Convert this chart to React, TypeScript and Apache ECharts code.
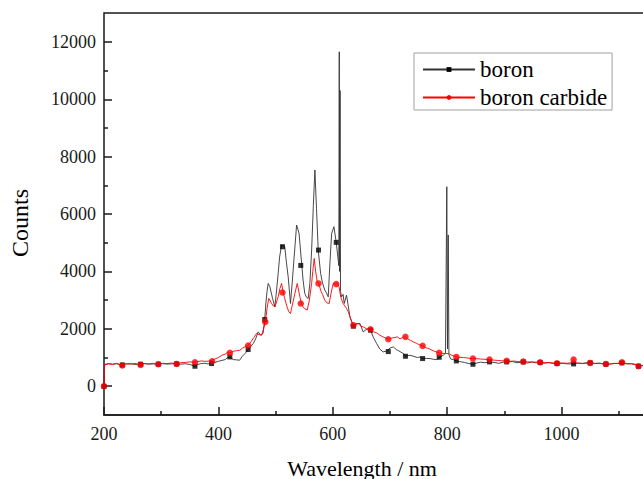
import React, { useEffect, useRef } from "react";
import * as echarts from "echarts";

// Boron spectrum (wavelength nm, counts)
const boronNm = [
  200, 201, 208, 215, 222, 230, 238, 246, 254, 262, 270, 278, 286, 294, 302, 310, 318, 326, 334, 342, 350, 359, 364, 370, 376, 382, 388, 394, 400, 406, 412, 416, 420, 426, 432, 437, 442, 447, 452, 457, 461, 465, 469.5, 474, 478, 481, 483, 485, 487, 490, 492.5, 494.7, 498.7, 501, 504.5, 507, 510.5, 513, 516, 519, 522, 526, 529, 532, 536.7, 541, 545.5, 548, 551, 554, 557, 560, 563, 566, 568.7, 571.5, 574.5, 578.7, 582, 586, 589, 592, 595, 598, 602, 606, 609.5, 610.5, 611.3, 612, 612.7, 613.5, 615.4, 618, 620, 624, 627, 630, 636, 641.7, 647.5, 653, 660, 666, 671, 676.7, 682, 688, 694, 700, 705.8, 711, 717.5, 724, 727, 735, 742, 748, 752.5, 757, 764, 770, 776, 781.7, 787, 793, 797, 799.3, 800.5, 801.8, 803, 806, 810.8, 816, 822, 830, 838, 845, 852, 858, 866, 874, 882, 890, 898, 904, 914, 922, 933, 940, 948, 954, 962.5, 970, 978, 986, 992, 1002, 1010, 1021, 1028, 1036, 1042, 1050, 1058, 1066, 1072, 1077.5, 1084, 1092, 1098, 1105.5, 1114, 1122, 1130, 1134.5, 1140, 1146,
];
const boronCounts = [
  0, 760, 790, 770, 785, 745, 775, 790, 760, 770, 795, 770, 780, 765, 790, 775, 780, 790, 770, 785, 760, 698, 760, 792, 800, 780, 814, 830, 870, 900, 930, 1000, 1022, 930, 920, 907, 1050, 1150, 1280, 1400, 1489, 1650, 1895, 1780, 1837, 2326, 2900, 3300, 3582, 3464, 3250, 3058, 2767, 3200, 3931, 4500, 4918, 4900, 4860, 4300, 3812, 2884, 3600, 4395, 5616, 5326, 4279, 3700, 3233, 3100, 3058, 3600, 4744, 6300, 7534, 6200, 4744, 3931, 3600, 3348, 3250, 3115, 4300, 5326, 5556, 5012, 4395, 4200, 11650, 4000, 10300, 3300, 3115, 3200, 2884, 3174, 2800, 2418, 2093, 2186, 2186, 1895, 2000, 1953, 1700, 1489, 1300, 1197, 1230, 1330, 1371, 1280, 1209, 1130, 1046, 1081, 1040, 1000, 1022, 965, 970, 965, 940, 930, 1011, 1081, 1150, 6950, 1300, 5270, 1100, 950, 930, 884, 860, 830, 790, 767, 810, 840, 820, 849, 830, 800, 840, 849, 860, 820, 849, 810, 850, 820, 825, 800, 830, 790, 791, 800, 780, 779, 810, 790, 820, 814, 790, 810, 780, 767, 770, 800, 790, 814, 780, 790, 760, 698, 730, 720,
];
// Boron markers (every n-th point)
const boronMarkNm = [200, 232, 264, 295, 327, 359, 388, 420, 452, 481, 512, 544, 575, 606, 636, 666, 697, 727, 757, 786, 816, 845, 874, 904, 933, 962.5, 992, 1021, 1050, 1077.5, 1105.5, 1134.5];
const boronMarkCounts = [0, 743, 767, 770, 780, 698, 792, 1022, 1280, 2326, 4860, 4209, 4744, 5012, 2093, 1953, 1209, 1046, 965, 1011, 884, 767, 849, 849, 849, 825, 791, 779, 814, 767, 814, 698];

// Boron carbide spectrum
const carbideNm = [
  200, 201, 208, 215, 222, 232, 238, 246, 254, 264, 270, 278, 286, 295, 302, 310, 318, 327, 334, 342, 350, 359, 364, 370, 376, 382, 389, 394, 400, 406, 412, 416, 420, 426, 432, 437.5, 442, 447, 452, 457, 462, 466.7, 471, 475.5, 479, 482, 485, 488, 490, 493, 496, 498.7, 501, 504.5, 507.5, 510.5, 513.3, 516, 520, 523, 526, 530, 533.7, 537.8, 542.5, 545, 548, 551, 555.3, 559, 563, 565, 567.5, 570, 572.8, 575.5, 578.7, 582, 586, 590, 593.7, 597, 600.8, 605.5, 608, 611, 614, 618, 621, 624, 627, 630, 633, 636, 640, 644.5, 649, 653, 659, 666, 671, 676.7, 682, 688, 692, 697, 703, 708.7, 713, 717.5, 722, 727, 731, 736, 740.8, 746, 751, 757, 762, 766, 770, 776, 781, 786, 791, 797, 802, 808, 812, 816, 822, 828, 834, 840, 845, 852, 858, 864, 874, 882, 888, 894, 904, 910, 916, 924, 933, 940, 948, 956, 962.5, 970, 978, 986, 992, 1002, 1010, 1016, 1021, 1026, 1034, 1042, 1050, 1058, 1066, 1074, 1077.5, 1084, 1092, 1098, 1105.5, 1114, 1122, 1130, 1134.5, 1140, 1146,
];
const carbideCounts = [
  0, 740, 780, 760, 800, 725, 790, 770, 800, 745, 790, 780, 800, 767, 800, 790, 810, 779, 820, 830, 850, 837, 860, 884, 870, 872, 907, 950, 1000, 1080, 1120, 1180, 1163, 1220, 1240, 1256, 1330, 1380, 1419, 1550, 1700, 1837, 1800, 1779, 2000, 2243, 2700, 3058, 3000, 2884, 2800, 2767, 2900, 3115, 3400, 3582, 3268, 3050, 2767, 2600, 2535, 2900, 3233, 3582, 3115, 2884, 2767, 2700, 2651, 3000, 3582, 4000, 4454, 4000, 3638, 3582, 3348, 3200, 3000, 2900, 2884, 3250, 3582, 3558, 3600, 3464, 3100, 2884, 2800, 2709, 2600, 2418, 2250, 2128, 2150, 2186, 2100, 2070, 2000, 1988, 1900, 1860, 1780, 1720, 1680, 1639, 1680, 1700, 1720, 1650, 1700, 1721, 1650, 1600, 1547, 1500, 1450, 1407, 1350, 1320, 1291, 1230, 1200, 1163, 1150, 1140, 1140, 1080, 1050, 1023, 1010, 1000, 990, 970, 965, 960, 950, 940, 930, 910, 900, 890, 884, 870, 880, 860, 861, 850, 845, 840, 837, 830, 820, 815, 802, 810, 800, 820, 930, 805, 800, 795, 814, 800, 790, 785, 779, 780, 790, 800, 837, 790, 780, 740, 698, 720, 710,
];
const carbideMarkNm = [200, 232, 264, 295, 327, 359, 389, 420, 452, 482, 512, 544, 575, 606, 636, 666, 697, 727, 757, 786, 816, 845, 874, 904, 933, 962.5, 992, 1021, 1050, 1077.5, 1105.5, 1134.5];
const carbideMarkCounts = [0, 725, 745, 767, 779, 837, 872, 1163, 1419, 2243, 3268, 2884, 3582, 3558, 2128, 1988, 1639, 1721, 1407, 1163, 1023, 965, 930, 884, 861, 837, 802, 930, 814, 779, 837, 698];

const xTicks = { min: 200, max: 1200, interval: 200 };
const yTicks = { min: 0, max: 12000, interval: 2000 };
const yFrame = { min: -1000, max: 13000 };

const pair = (xs: number[], ys: number[]) => xs.map((x, i) => [x, ys[i]]);

export default function App() {
  const ref = useRef<HTMLDivElement>(null);
  useEffect(() => {
    const chart = echarts.init(ref.current!, null, { renderer: "svg" });
    const font = "'Liberation Serif', 'Times New Roman', serif";
    const ink = "#1a1a1a";
    const plain = (v: number) => String(v);
    const tick = { show: true, inside: true, length: 8, lineStyle: { color: ink, width: 1.5 } };
    const minor = { show: true, splitNumber: 2, length: 4, lineStyle: { color: ink, width: 1.5 } };
    chart.setOption({
      animation: false,
      backgroundColor: "#fff",
      grid: [
        { left: 104, top: 13, width: 572, height: 402, show: true, borderColor: ink, borderWidth: 1.5, backgroundColor: "transparent", outerBoundsMode: "none" },
        { left: 104, top: 42, width: 572, height: 344, outerBoundsMode: "none" },
      ],
      xAxis: [
        {
          type: "value", gridIndex: 0, position: "bottom", min: xTicks.min, max: xTicks.max, interval: xTicks.interval,
          axisLine: { show: true, onZero: false, lineStyle: { color: ink, width: 1.5 } },
          axisTick: tick,
          minorTick: minor,
          axisLabel: { fontSize: 18, color: ink, margin: 10, fontFamily: font, formatter: plain, showMaxLabel: false },
          splitLine: { show: false },
        },
        { type: "value", gridIndex: 1, min: xTicks.min, max: xTicks.max, show: false },
      ],
      yAxis: [
        { type: "value", gridIndex: 0, min: yFrame.min, max: yFrame.max, show: false },
        {
          type: "value", gridIndex: 1, position: "left", min: yTicks.min, max: yTicks.max, interval: yTicks.interval,
          axisLine: { show: false, onZero: false },
          axisTick: tick,
          minorTick: minor,
          axisLabel: { fontSize: 18, color: ink, margin: 8, fontFamily: font, formatter: plain },
          splitLine: { show: false },
        },
      ],
      legend: {
        data: ["boron", "boron carbide"],
        orient: "vertical",
        left: 414,
        top: 53,
        itemWidth: 52,
        itemHeight: 6,
        itemGap: 5,
        padding: [5, 5, 1, 8],
        borderColor: "#a0a0a0",
        borderWidth: 1,
        backgroundColor: "#fff",
        textStyle: { fontSize: 23, fontFamily: font, color: "#000", lineHeight: 23 },
      },
      series: [
        {
          name: "boron", type: "line", xAxisIndex: 0, yAxisIndex: 0,
          data: pair(boronNm, boronCounts),
          symbol: "rect", symbolSize: 5, showSymbol: false,
          lineStyle: { color: "#333", width: 0.9 }, itemStyle: { color: "#000" }, z: 2,
        },
        {
          name: "boronMarks", type: "scatter", xAxisIndex: 0, yAxisIndex: 0,
          data: pair(boronMarkNm, boronMarkCounts),
          symbol: "rect", symbolSize: 5, itemStyle: { color: "#000" }, z: 3,
        },
        {
          name: "boron carbide", type: "line", xAxisIndex: 0, yAxisIndex: 0,
          data: pair(carbideNm, carbideCounts),
          symbol: "circle", symbolSize: 6, showSymbol: false,
          lineStyle: { color: "#ff0000", width: 0.9 }, itemStyle: { color: "#ff0000" }, z: 4,
        },
        {
          name: "carbideMarks", type: "scatter", xAxisIndex: 0, yAxisIndex: 0,
          data: pair(carbideMarkNm, carbideMarkCounts),
          symbol: "circle", symbolSize: 6.5, itemStyle: { color: "#ff0000" }, z: 5,
        },
      ],
      graphic: [
        {
          type: "text", x: 20, y: 223, rotation: Math.PI / 2,
          style: { text: "Counts", fontSize: 24, fontFamily: font, fill: "#000", align: "center", verticalAlign: "middle" },
        },
        {
          type: "text", x: 362, y: 468,
          style: { text: "Wavelength / nm", fontSize: 22, fontFamily: font, fill: "#000", align: "center", verticalAlign: "middle" },
        },
      ],
    });
    return () => chart.dispose();
  }, []);
  return (
    <div
      ref={ref}
      style={{ position: "absolute", left: 0, top: 0, width: 643, height: 479, background: "#fff" }}
    />
  );
}
